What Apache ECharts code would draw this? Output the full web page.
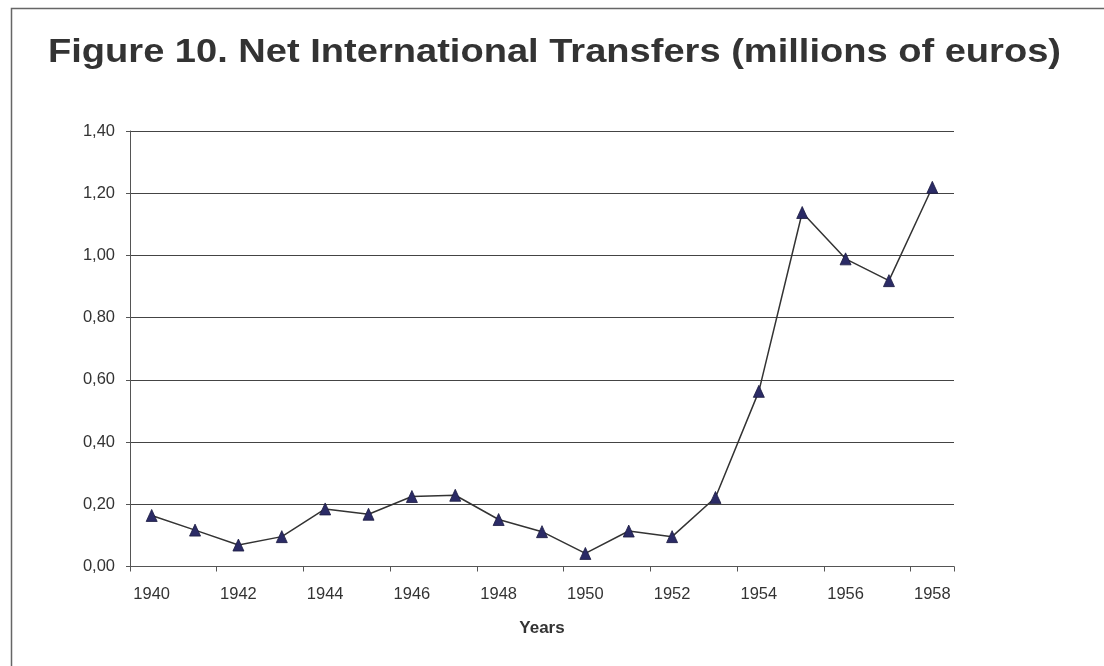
<!DOCTYPE html>
<html>
<head>
<meta charset="utf-8">
<script src="https://cdn.jsdelivr.net/npm/echarts@6/dist/echarts.min.js"></script>
<style>
html,body{margin:0;padding:0;background:#fff;}
#c{width:1104px;height:666px;}
</style>
</head>
<body>
<div id="c"></div>
<script>
const categories = ['1940','1941','1942','1943','1944','1945','1946','1947','1948','1949','1950','1951','1952','1953','1954','1955','1956','1957','1958'];
const values = [0.164,0.117,0.069,0.096,0.185,0.168,0.225,0.229,0.151,0.112,0.042,0.114,0.096,0.222,0.563,1.138,0.989,0.919,1.219];
const titleText = 'Figure 10. Net International Transfers (millions of euros)';
const xAxisName = 'Years';

const FONT = '"Liberation Sans", Arial, sans-serif';
const titleSize = 33;
// horizontal stretch so the title spans the same width as in the reference
const mctx = document.createElement('canvas').getContext('2d');
mctx.font = 'bold ' + titleSize + 'px ' + FONT;
const natW = mctx.measureText(titleText).width || 880;
const titleScaleX = 1013 / natW;

const chart = echarts.init(document.getElementById('c'), null, {renderer:'canvas'});
chart.setOption({
  backgroundColor:'#ffffff',
  animation:false,
  graphic:[{
    type:'rect', left:9, top:6, z:-1, silent:true,
    shape:{x:0,y:0,width:1200,height:800},
    style:{fill:'none', stroke:'#666666', lineWidth:1.5}
  },{
    type:'text', x:48, y:53, scaleX:titleScaleX, scaleY:1,
    style:{text:titleText, fontFamily:FONT, fontWeight:'bold', fontSize:titleSize,
      fill:'#333333', align:'left', verticalAlign:'middle'}
  }],
  grid:{left:130, top:131, right:150, bottom:99.5, containLabel:false},
  xAxis:{
    type:'category', data:categories, boundaryGap:true,
    name:xAxisName, nameLocation:'middle', nameGap:53,
    nameTextStyle:{fontFamily:FONT, fontWeight:'bold', fontSize:17, color:'#333333'},
    axisLine:{lineStyle:{color:'#555555', width:1}},
    axisTick:{show:true, length:5, alignWithLabel:false, lineStyle:{color:'#555555'}},
    axisLabel:{interval:1, margin:19, fontFamily:FONT, fontSize:16.5, color:'#333333'},
    splitLine:{show:false}
  },
  yAxis:{
    type:'value', min:0, max:1.4, interval:0.2,
    axisLine:{show:true, lineStyle:{color:'#555555', width:1}},
    axisTick:{show:true, length:4, lineStyle:{color:'#555555'}},
    axisLabel:{margin:15, fontFamily:FONT, fontSize:16.5, color:'#333333',
      formatter:function(v){return v.toFixed(2).replace('.',',');}},
    splitLine:{show:true, lineStyle:{color:'#444444', width:1}}
  },
  series:[{
    type:'line', data:values,
    symbol:'triangle', symbolSize:[11,12],
    lineStyle:{color:'#333333', width:1.5},
    itemStyle:{color:'#2b2b66', borderColor:'#1a1a40', borderWidth:0.8}
  }]
});
</script>
</body>
</html>
